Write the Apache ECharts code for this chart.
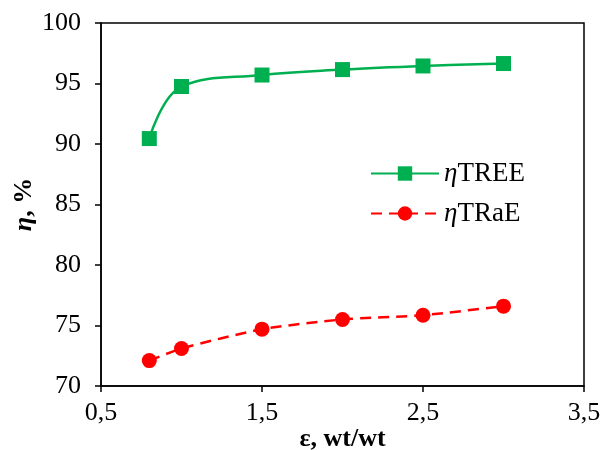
<!DOCTYPE html>
<html>
<head>
<meta charset="utf-8">
<script src="https://cdn.jsdelivr.net/npm/echarts@6/dist/echarts.min.js"></script>
<style>
  html, body { margin: 0; padding: 0; background: #fff; }
  #chart { width: 610px; height: 450px; }
</style>
</head>
<body>
<div id="chart"></div>
<script>
// ratio eps, wt/wt
var epsValues = [0.8, 1.0, 1.5, 2.0, 2.5, 3.0];
// efficiency, %
var treeValues = [90.45, 94.75, 95.7, 96.15, 96.45, 96.65];
var traeValues = [72.1, 73.1, 74.7, 75.5, 75.85, 76.6];
var seriesNames = ['TREE', 'TRaE'];

function pairs(ys) {
  return epsValues.map(function (x, i) { return [x, ys[i]]; });
}

var font = 'Liberation Serif';
var myChart = echarts.init(document.getElementById('chart'));
myChart.setOption({
  animation: false,
  textStyle: { fontFamily: font, color: '#000' },
  grid: {
    left: 101, right: 26, top: 23, bottom: 64,
    outerBoundsMode: 'none', containLabel: false,
    show: true, borderColor: '#000', borderWidth: 1.5
  },
  legend: {
    orient: 'vertical',
    left: 370, top: 160, padding: 0,
    itemWidth: 68, itemHeight: 18, itemGap: 13,
    data: seriesNames,
    formatter: function (n) { return '{eta|η}{t|' + n + '}'; },
    textStyle: {
      fontFamily: font, fontSize: 27, color: '#000',
      rich: {
        eta: { fontFamily: font, fontSize: 27, fontStyle: 'italic' },
        t: { fontFamily: font, fontSize: 27 }
      }
    }
  },
  xAxis: {
    type: 'value', min: 0.5, max: 3.5, interval: 1,
    name: 'ε, wt/wt', nameLocation: 'middle', nameGap: 40, nameMoveOverlap: false,
    nameTextStyle: { fontFamily: font, fontSize: 26, fontWeight: 'bold', color: '#000' },
    splitLine: { show: false },
    axisLine: { lineStyle: { color: '#000', width: 1.5 } },
    axisTick: { show: true, length: 6, inside: false, lineStyle: { color: '#000', width: 1.5 } },
    axisLabel: {
      fontFamily: font, fontSize: 26, color: '#000', margin: 14,
      formatter: function (v) { return String(v).replace('.', ','); }
    }
  },
  yAxis: {
    type: 'value', min: 70, max: 100, interval: 5,
    name: '{e|η}{b|, %}', nameLocation: 'middle', nameGap: 64, nameMoveOverlap: false,
    nameTextStyle: {
      fontFamily: font, fontSize: 26, fontWeight: 'bold', color: '#000',
      rich: {
        e: { fontFamily: font, fontSize: 26, fontWeight: 'bold', fontStyle: 'italic' },
        b: { fontFamily: font, fontSize: 26, fontWeight: 'bold' }
      }
    },
    splitLine: { show: false },
    axisLine: { lineStyle: { color: '#000', width: 1.5 } },
    axisTick: { show: true, length: 6, inside: false, lineStyle: { color: '#000', width: 1.5 } },
    axisLabel: { fontFamily: font, fontSize: 26, color: '#000', margin: 20 }
  },
  series: [
    {
      name: 'TREE', type: 'line', smooth: 0.4,
      data: pairs(treeValues),
      symbol: 'rect', symbolSize: 15,
      lineStyle: { color: '#00b050', width: 2.5 },
      itemStyle: { color: '#00b050' }
    },
    {
      name: 'TRaE', type: 'line', smooth: 0.2,
      data: pairs(traeValues),
      symbol: 'circle', symbolSize: 15,
      lineStyle: { color: '#ff0000', width: 2.5, type: [11, 7] },
      itemStyle: { color: '#ff0000' }
    }
  ]
});
</script>
</body>
</html>
